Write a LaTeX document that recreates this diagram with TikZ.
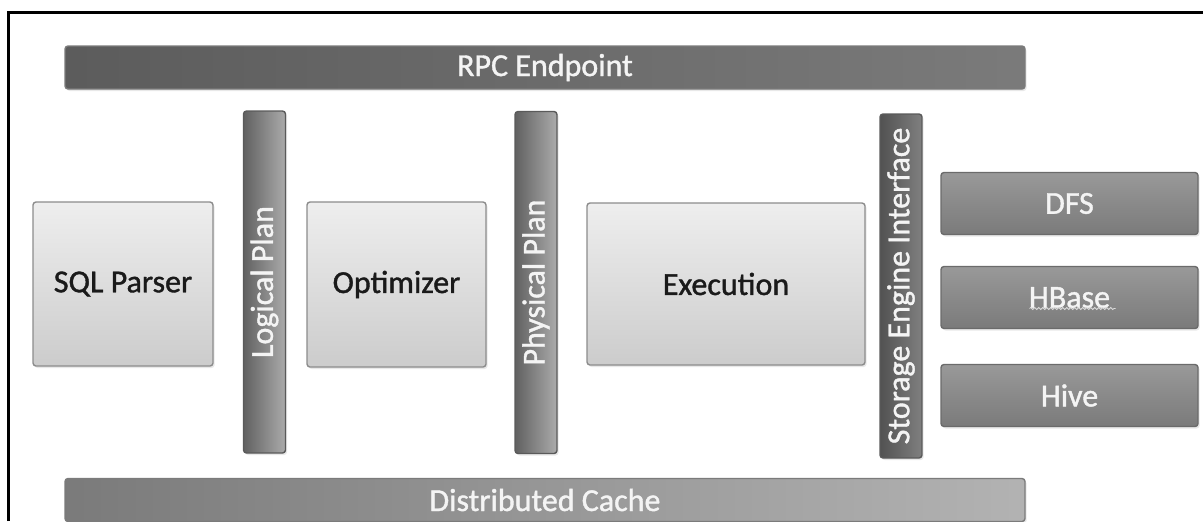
\documentclass[tikz,border=0pt]{standalone}
\usepackage{fontspec}
\setmainfont{Carlito}[RawFeature={embolden=1.2}]
\usetikzlibrary{shadows,decorations.pathmorphing,calc}
\definecolor{modtop}{HTML}{EEEEEE}
\definecolor{modbot}{HTML}{CCCCCC}
\definecolor{modline}{HTML}{8C8C8C}
\definecolor{modtext}{HTML}{1A1A1A}
\definecolor{barline}{HTML}{5A5A5A}
\definecolor{bartext}{HTML}{F4F4F4}
\begin{document}
\begin{tikzpicture}[x=0.5pt,y=-0.5pt,
  base/.style={rounded corners=1.5pt,line width=0.7pt,inner sep=0pt,
    drop shadow={shadow xshift=0.8pt,shadow yshift=-1pt,opacity=0.18},
    font=\fontsize{16}{19}\selectfont},
  module/.style={base,draw=modline,top color=modtop,bottom color=modbot,text=modtext},
  hbar/.style 2 args={base,draw=barline!80,left color=#1,right color=#2,text=bartext,
    minimum width=480pt,minimum height=21.5pt},
  vbar/.style 2 args={base,draw=barline,rotate=90,left color=#2,right color=#1,text=bartext,
    minimum width=171pt,minimum height=21pt},
  store/.style={base,draw=barline!90,top color=black!40,bottom color=black!52,text=bartext,
    minimum width=128.5pt,minimum height=31pt}]

\useasboundingbox (0,0) rectangle (1203,521);

% frame
\draw[line width=1.5pt] (8,521) -- (8,12) -- (1203,12);

% top and bottom bars
\node[hbar={black!64}{black!52}] (RPC) at (545,67.5) {RPC Endpoint};
\node[hbar={black!52}{black!30}] (Cache) at (545,500) {Distributed Cache};

% vertical bars
\node[vbar={black!33}{black!62}] (Logical) at (264.5,282) {Logical Plan};
\node[vbar={black!33}{black!62}] (Physical) at (536,282.5) {Physical Plan};
\node[vbar={black!50}{black!68},minimum width=172pt] (Storage) at (901,286) {Storage Engine Interface};

% modules
\node[module,minimum width=90pt,minimum height=82pt] (Parser) at (123,284) {SQL Parser};
\node[module,minimum width=89.5pt,minimum height=82.5pt] (Optimizer) at (396.5,284.5) {Optimizer};
\node[module,minimum width=139pt,minimum height=81pt] (Execution) at (726,284) {Execution};

% storage engines
\node[store] (DFS) at (1069.5,203.5) {DFS};
\node[store] (HBase) at (1069.5,297.5) {HBase};
\node[store] (Hive) at (1069.5,395.5) {Hive};
\draw[decorate,decoration={snake,amplitude=0.5pt,segment length=2pt},bartext!80!gray,line width=0.4pt]
  ($(HBase.center)+(-40,11)$) -- ($(HBase.center)+(46,11)$);
\end{tikzpicture}
\end{document}
